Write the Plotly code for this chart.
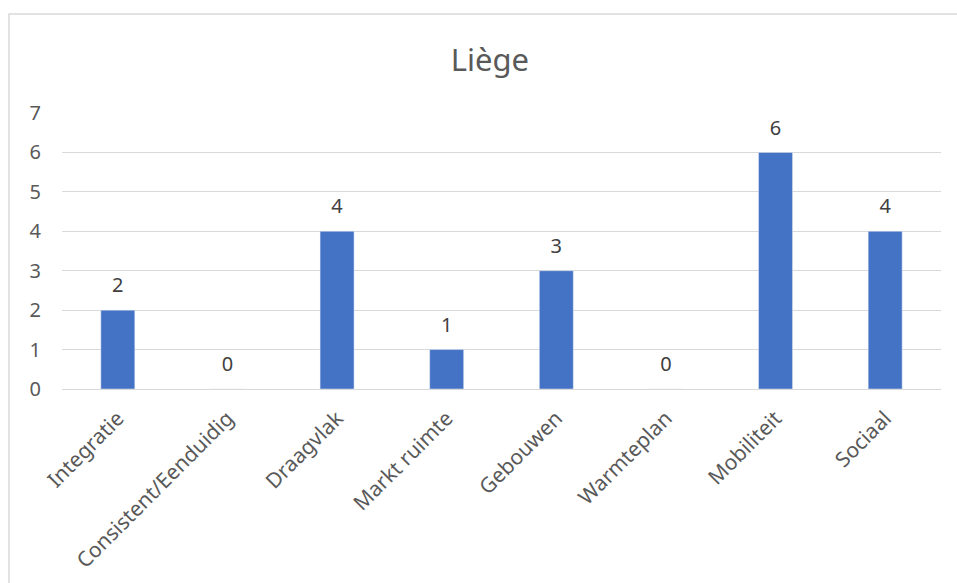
import plotly.graph_objects as go

# Liège scores per thema
categories = ["Integratie", "Consistent/Eenduidig", "Draagvlak", "Markt ruimte",
              "Gebouwen", "Warmteplan", "Mobiliteit", "Sociaal"]
values = [2, 0, 4, 1, 3, 0, 6, 4]
y_ticks = [0, 1, 2, 3, 4, 5, 6, 7]

fig = go.Figure()
fig.add_trace(go.Bar(x=categories, y=values, width=0.31, marker_color="#4472C4"))
# data labels above the bars (invisible marker pushes text up)
fig.add_trace(go.Scatter(
    x=categories, y=values, mode="markers+text",
    marker=dict(size=19, opacity=0), text=values, textposition="top center",
    textfont=dict(size=20, color="#404040"), cliponaxis=False, hoverinfo="skip",
))

fig.update_layout(
    width=957, height=583,
    margin=dict(l=62, r=16, t=113, b=194),
    paper_bgcolor="white", plot_bgcolor="white",
    font=dict(family="Noto Sans, Open Sans, sans-serif", color="#595959"),
    title=dict(text="Liège", x=0.512, xanchor="center", y=0.897, yanchor="middle",
               font=dict(size=31, color="#595959")),
    showlegend=False,
    xaxis=dict(tickangle=-45, tickfont=dict(size=21, color="#595959"),
               showgrid=False, showline=False, ticks="", ticklabelstandoff=12,
               automargin=False),
    yaxis=dict(range=[0, 7], tickvals=y_ticks, tickfont=dict(size=20, color="#595959"),
               showgrid=True, gridcolor="#d9d9d9", gridwidth=1.3,
               zeroline=True, zerolinecolor="#d9d9d9", zerolinewidth=1.3,
               ticklabelstandoff=20, automargin=False),
)

# light frame around the chart (extends past the window on right/bottom)
fig.add_shape(type="rect", xref="paper", yref="paper",
              x0=-0.0603, x1=1.5, y0=-1.5, y1=1.3587,
              line=dict(color="#d9d9d9", width=1.5), layer="below")

# drop the default page margin so the figure fills the window
fig.write_html("out.html", config={"displayModeBar": False},
               post_script="document.body.style.margin='0';")
